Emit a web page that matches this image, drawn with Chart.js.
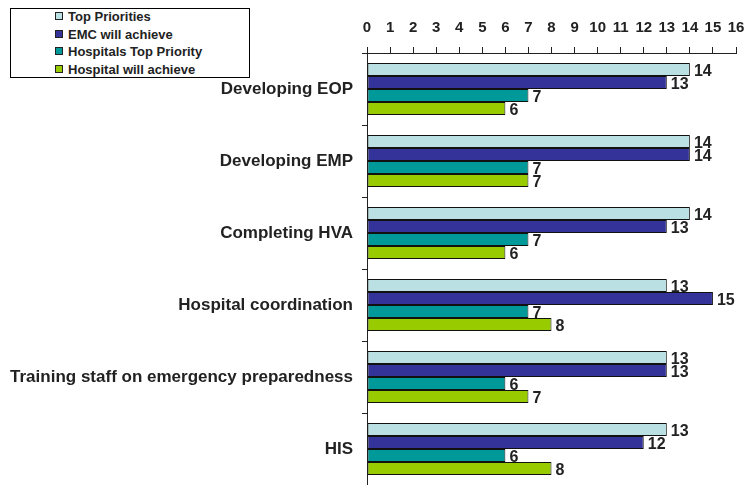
<!DOCTYPE html>
<html>
<head>
<meta charset="utf-8">
<script src="https://cdn.jsdelivr.net/npm/chart.js@4"></script>
<style>
  body { margin: 0; background: #fff; }
  #wrap { position: relative; width: 744px; height: 485px; }
  #legend {
    position: absolute; left: 10px; top: 8px; width: 238px; height: 68px;
    border: 1px solid #000; background: #fff;
    font: bold 13px "Liberation Sans", Arial, sans-serif; color: #222;
  }
  #legend div { position: absolute; left: 44px; height: 15px; line-height: 15px; white-space: nowrap; }
  #legend span { display: inline-block; width: 6px; height: 6px; border: 1px solid #222; margin-right: 5px; vertical-align: 1px; }
</style>
</head>
<body>
<div id="wrap">
  <canvas id="chart_canvas" width="744" height="485"></canvas>
  <div id="legend"></div>
</div>
<script>
// chart values
const categories = ['Developing EOP', 'Developing EMP', 'Completing HVA', 'Hospital coordination',
  'Training staff on emergency preparedness', 'HIS'];
const topPriorities = [14, 14, 14, 13, 13, 13];
const emcWillAchieve = [13, 14, 13, 15, 13, 12];
const hospitalsTopPriority = [7, 7, 7, 7, 6, 6];
const hospitalWillAchieve = [6, 7, 6, 8, 7, 8];
const seriesNames = ['Top Priorities', 'EMC will achieve', 'Hospitals Top Priority', 'Hospital will achieve'];
const seriesColors = ['#BAE0E4', '#333399', '#009999', '#99CC00'];
const xTicks = [0, 16];

const series = [topPriorities, emcWillAchieve, hospitalsTopPriority, hospitalWillAchieve];

// value next to each bar end
const barLabels = {
  id: 'barLabels',
  afterDatasetsDraw(chart) {
    let c = chart.ctx;
    c.save();
    c.font = 'bold 16px "Liberation Sans", Arial, sans-serif';
    c.fillStyle = '#222';
    c.textBaseline = 'middle';
    c.textAlign = 'left';
    chart.data.datasets.forEach((ds, i) => {
      chart.getDatasetMeta(i).data.forEach((bar, j) => {
        c.fillText(ds.data[j], bar.x + 4, bar.y + 2);
      });
    });
    c.restore();
  }
};

let legendBox = document.getElementById('legend');
seriesNames.forEach((name, i) => {
  let row = document.createElement('div');
  row.style.top = (0 + i * 17.5) + 'px';
  row.innerHTML = '<span style="background:' + seriesColors[i] + '"></span>' + name;
  legendBox.appendChild(row);
});

let ctx = document.getElementById('chart_canvas');
let chart = new Chart(ctx, { // eslint-disable-line no-unused-vars
  type: 'bar',
  data: {
    labels: categories,
    datasets: series.map((vals, i) => ({
      label: seriesNames[i],
      data: vals,
      backgroundColor: seriesColors[i],
      borderColor: '#111',
      borderWidth: 1,
      borderSkipped: false,
      categoryPercentage: 0.72,
      barPercentage: 1.0
    }))
  },
  options: {
    indexAxis: 'y',
    responsive: false,
    devicePixelRatio: 1,
    animation: false,
    layout: { padding: 0 },
    plugins: { legend: { display: false }, tooltip: { enabled: false } },
    scales: {
      x: {
        position: 'top',
        min: xTicks[0],
        max: xTicks[1],
        ticks: {
          stepSize: 1,
          color: '#222',
          padding: 10,
          font: { family: '"Liberation Sans", Arial, sans-serif', size: 15, weight: 'bold' }
        },
        grid: { drawOnChartArea: false, tickLength: 6, color: '#222' },
        border: { color: '#222', width: 1 },
        afterFit(scale) {
          scale.height = 53;
          scale.paddingRight = 8;
          scale.paddingLeft = 0;
        }
      },
      y: {
        ticks: {
          color: '#222',
          padding: 9,
          font: { family: '"Liberation Sans", Arial, sans-serif', size: 17, weight: 'bold' }
        },
        grid: { drawOnChartArea: false, tickLength: 5, color: '#222' },
        border: { color: '#222', width: 1 },
        afterFit(scale) {
          scale.width = 367;
          scale.paddingTop = 0;
          scale.paddingBottom = 0;
        }
      }
    }
  },
  plugins: [barLabels]
});
</script>
</body>
</html>
